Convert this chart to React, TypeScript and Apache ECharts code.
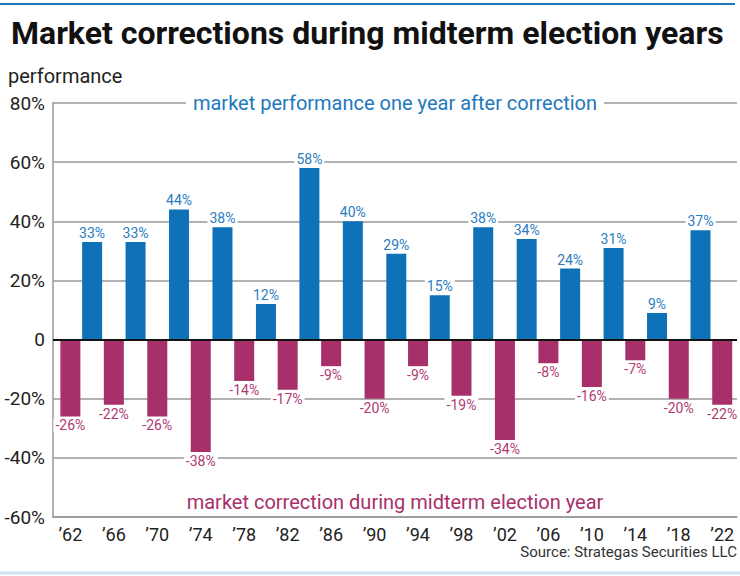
import React, { useEffect, useRef } from "react";
import * as echarts from "echarts";

const yearLabels = ["’62", "’66", "’70", "’74", "’78", "’82", "’86", "’90", "’94", "’98", "’02", "’06", "’10", "’14", "’18", "’22"];
const correction = [-26, -22, -26, -38, -14, -17, -9, -20, -9, -19, -34, -8, -16, -7, -20, -22];
const afterYear = [33, 33, 44, 38, 12, 58, 40, 29, 15, 38, 34, 24, 31, 9, 37];
const yTicks = [-60, -40, -20, 0, 20, 40, 60, 80];

const BLUE = "#0f72b8";
const MAGENTA = "#a7306b";
const FONT = "Roboto";

export default function App() {
  const ref = useRef<HTMLDivElement>(null);
  useEffect(() => {
    if (!ref.current) return;
    const chart = echarts.init(ref.current, null, { renderer: "svg" });
    const magData = correction.map((v, i) => [i, v]);
    const blueData = afterYear.map((v, i) => [i + 0.5, v]);
    chart.setOption({
      animation: false,
      backgroundColor: "#fff",
      textStyle: { fontFamily: FONT },
      title: {
        text: "Market corrections during midterm election years",
        left: 6,
        top: 12,
        textStyle: { fontSize: 32, fontWeight: "bold", color: "#111", fontFamily: FONT },
      },
      grid: { left: 53, right: 3, top: 103, bottom: 59 },
      xAxis: {
        type: "value",
        min: -0.4,
        max: 15.34,
        splitLine: { show: false },
        axisTick: { show: false },
        axisLine: { show: true, onZero: false, lineStyle: { color: "#999", width: 1.5 } },
        axisLabel: {
          customValues: yearLabels.map((_, i) => i),
          formatter: (v: number) => yearLabels[Math.round(v)] ?? "",
          fontSize: 18,
          color: "#222",
          margin: 8,
          fontFamily: FONT,
        },
      },
      yAxis: {
        type: "value",
        min: yTicks[0],
        max: yTicks[yTicks.length - 1],
        interval: 20,
        axisLine: { show: true, onZero: false, lineStyle: { color: "#999", width: 1.5 } },
        axisTick: { show: false },
        splitLine: { show: true, lineStyle: { color: "#999", width: 1.5 } },
        axisLabel: {
          formatter: (v: number) => (v === 0 ? "0" : v + "%"),
          fontSize: 19,
          color: "#222",
          margin: 8,
          fontFamily: FONT,
        },
      },
      series: [
        {
          type: "bar",
          name: "correction",
          data: magData,
          barWidth: 20,
          barGap: "-100%",
          itemStyle: { color: MAGENTA },
          label: {
            show: true,
            position: "bottom",
            distance: 2,
            formatter: (p: any) => p.value[1] + "%",
            color: "#b03a74",
            fontSize: 14,
            fontFamily: FONT,
            backgroundColor: "#fff",
            padding: [0, 2],
          },
          markLine: {
            silent: true,
            symbol: "none",
            label: { show: false },
            lineStyle: { color: "#111", width: 2, type: "solid" },
            data: [{ yAxis: 0 }],
          },
        },
        {
          type: "bar",
          name: "after",
          data: blueData,
          barWidth: 20,
          barGap: "-100%",
          itemStyle: { color: BLUE },
          label: {
            show: true,
            position: "top",
            distance: 2,
            formatter: (p: any) => p.value[1] + "%",
            color: "#2a7cc0",
            fontSize: 14,
            fontFamily: FONT,
            backgroundColor: "#fff",
            padding: [0, 2],
          },
        },
      ],
      graphic: [
        { type: "line", shape: { x1: 0, y1: 4, x2: 735, y2: 4 }, style: { stroke: "#1c76bd", lineWidth: 2 } },
        { type: "line", shape: { x1: 0, y1: 573, x2: 740, y2: 573 }, style: { stroke: "#cfe4f2", lineWidth: 3 } },
        {
          type: "text",
          left: 8,
          top: 66,
          style: { text: "performance", fontSize: 20, fill: "#222", fontFamily: FONT },
        },
        {
          type: "text",
          x: 395,
          y: 103,
          z: 100,
          style: {
            text: "market performance one year after correction",
            fontSize: 20,
            fill: "#2278bd",
            fontFamily: FONT,
            align: "center",
            verticalAlign: "middle",
            backgroundColor: "#fff",
            padding: [2, 7],
          },
        },
        {
          type: "text",
          x: 395,
          y: 502,
          z: 100,
          style: {
            text: "market correction during midterm election year",
            fontSize: 20,
            fill: "#a8306b",
            fontFamily: FONT,
            align: "center",
            verticalAlign: "middle",
          },
        },
        {
          type: "text",
          x: 737,
          y: 552,
          style: {
            text: "Source: Strategas Securities LLC",
            fontSize: 15,
            fill: "#333",
            fontFamily: FONT,
            align: "right",
            verticalAlign: "middle",
          },
        },
      ],
    });
    return () => chart.dispose();
  }, []);
  return <div ref={ref} style={{ position: "fixed", left: 0, top: 0, width: 740, height: 576 }} />;
}
